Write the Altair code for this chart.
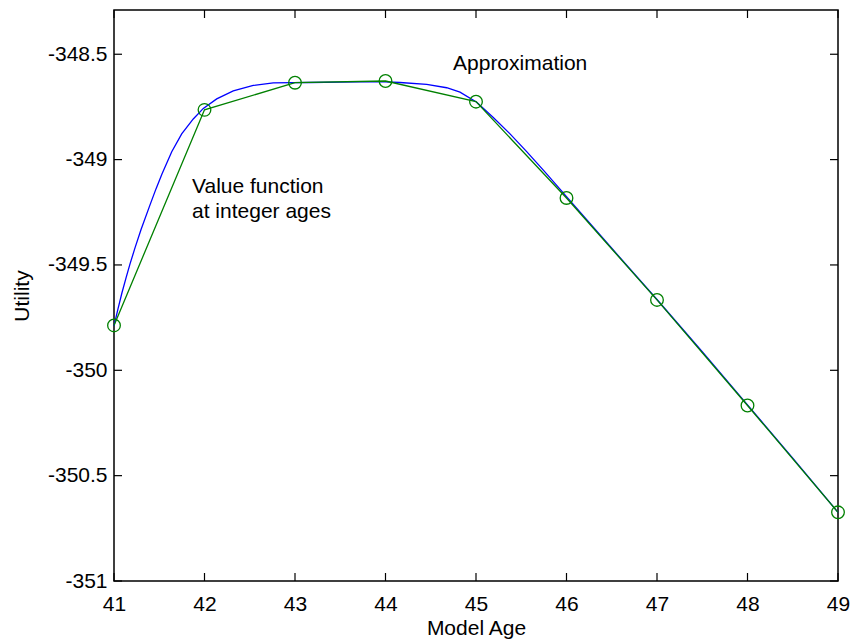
import altair as alt
import pandas as pd

# Continuous approximation of the value function (model age, utility)
approx_age = [41.0, 41.044, 41.088, 41.133, 41.177, 41.232, 41.298, 41.398, 41.464,
              41.530, 41.638, 41.748, 41.876, 41.987, 42.135, 42.318, 42.539, 42.76,
              42.978, 43.166, 43.497, 43.939, 44.16, 44.455, 44.676, 44.823, 45.008,
              45.191, 45.376, 45.56, 45.744, 45.928, 46.0, 46.5, 47.0, 47.5, 48.0,
              48.5, 49.0]
approx_utility = [-349.789, -349.708, -349.632, -349.561, -349.495, -349.419, -349.333,
                  -349.215, -349.139, -349.068, -348.963, -348.878, -348.807, -348.757,
                  -348.712, -348.674, -348.648, -348.636, -348.635, -348.634, -348.632,
                  -348.630, -348.634, -348.643, -348.659, -348.680, -348.728, -348.800,
                  -348.878, -348.962, -349.050, -349.140, -349.176, -349.421, -349.664,
                  -349.912, -350.164, -350.417, -350.674]

# Value function evaluated at integer ages
int_age = [41, 42, 43, 44, 45, 46, 47, 48, 49]
int_utility = [-349.787, -348.764, -348.635, -348.627, -348.725, -349.182,
               -349.666, -350.167, -350.674]

# Tick values
x_ticks = [41, 42, 43, 44, 45, 46, 47, 48, 49]
y_ticks = [-351, -350.5, -350, -349.5, -349, -348.5]

# Annotations
note_text = ["Approximation", "Value function", "at integer ages"]
note_age = [44.746, 41.862, 41.862]
note_utility = [-348.574, -349.158, -349.277]

approx = pd.DataFrame({"age": approx_age, "utility": approx_utility})
points = pd.DataFrame({"age": int_age, "utility": int_utility})
notes = pd.DataFrame({"text": note_text, "age": note_age, "utility": note_utility})
xt = pd.DataFrame({"age": x_ticks})
yt = pd.DataFrame({"utility": y_ticks})

W, H = 724, 571
FONT = "Liberation Sans"
x_scale = alt.Scale(domain=[41, 49], nice=False, zero=False)
y_scale = alt.Scale(domain=[-351, -348.29], nice=False, zero=False)

x_enc = alt.X("age:Q", scale=x_scale, title="Model Age",
              axis=alt.Axis(values=x_ticks, labelExpr="'' + datum.value",
                            labelFlush=False, labelPadding=12, titleY=53,
                            titleBaseline="alphabetic"))
y_enc = alt.Y("utility:Q", scale=y_scale, title="Utility",
              axis=alt.Axis(values=y_ticks, labelExpr="'' + datum.value",
                            labelPadding=7, titleX=-92, titleY=H / 2,
                            titleAngle=270, titleAlign="center",
                            titleBaseline="middle"))

xs = alt.X("age:Q", scale=x_scale)
ys = alt.Y("utility:Q", scale=y_scale)

line_approx = alt.Chart(approx).mark_line(color="#0000FF", strokeWidth=1.3).encode(
    x=x_enc, y=y_enc, order="age:Q")
line_int = alt.Chart(points).mark_line(color="#008000", strokeWidth=1.3).encode(
    x=xs, y=ys)
dots = alt.Chart(points).mark_point(shape="circle", size=160, color="#008000",
                                    strokeWidth=1.3, filled=False, opacity=1).encode(
    x=xs, y=ys)
labels = alt.Chart(notes).mark_text(align="left", baseline="alphabetic", font=FONT,
                                    fontSize=21, color="black").encode(
    x=xs, y=ys, text="text:N")

# Inward ticks on all four sides
tick_len = 8
t_bottom = alt.Chart(xt).mark_rule(color="black", strokeWidth=1.2).encode(
    x=xs, y=alt.value(H), y2=alt.value(H - tick_len))
t_top = alt.Chart(xt).mark_rule(color="black", strokeWidth=1.2).encode(
    x=xs, y=alt.value(0), y2=alt.value(tick_len))
t_left = alt.Chart(yt).mark_rule(color="black", strokeWidth=1.2).encode(
    y=ys, x=alt.value(0), x2=alt.value(tick_len))
t_right = alt.Chart(yt).mark_rule(color="black", strokeWidth=1.2).encode(
    y=ys, x=alt.value(W), x2=alt.value(W - tick_len))

chart = alt.layer(line_approx, line_int, dots, labels,
                  t_bottom, t_top, t_left, t_right).properties(
    width=W, height=H,
    autosize=alt.AutoSizeParams(type="none"),
    padding={"left": 114, "top": 10, "right": 14, "bottom": 61},
    background="white",
).configure_view(
    stroke="black", strokeWidth=1.5
).configure_axis(
    grid=False, domain=False, ticks=False,
    labelFont=FONT, labelFontSize=21, labelColor="black",
    titleFont=FONT, titleFontSize=21, titleColor="black", titleFontWeight="normal",
)

chart.save("out.html", embed_options={"renderer": "svg", "actions": False})
